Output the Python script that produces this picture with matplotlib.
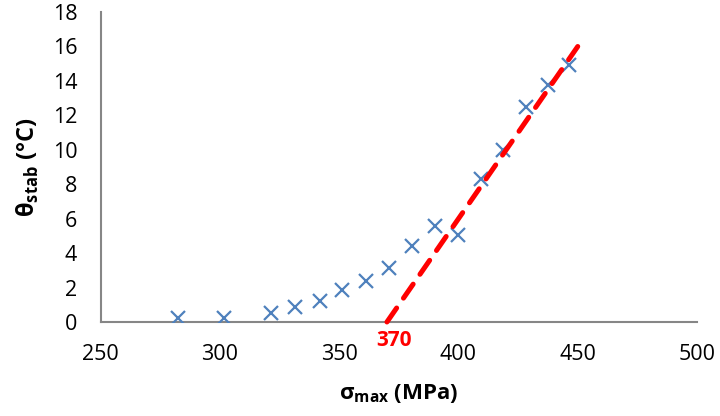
import numpy as np
import matplotlib.pyplot as plt


plt.rcParams.update({
	'font.family': ['Open Sans', 'DejaVu Sans'],
	'font.size': 15,
	'mathtext.fontset': 'custom',
	'mathtext.rm': 'Open Sans',
	'mathtext.bf': 'Open Sans:bold',
})


sigma_max = [282.3, 301.6, 321.3, 331.4, 341.9, 351.2, 361.2, 370.7,
	380.6, 390.2, 399.7, 409.3, 418.8, 428.1, 437.4, 446.4]
theta_stab = [0.23, 0.23, 0.54, 0.89, 1.22, 1.86, 2.4, 3.14,
	4.42, 5.58, 5.06, 8.3, 10.0, 12.48, 13.76, 14.94]

fit_x = [370, 450]
fit_y = [0, 16]
threshold = 370


fig = plt.figure(figsize=(7.2, 4.16), dpi=100)
axis = fig.add_axes([0.140, 0.226, 0.828, 0.745])

axis.plot(sigma_max, theta_stab, linestyle='none', marker='x',
	markersize=10, markeredgewidth=1.6, color='#4F81BD', zorder=3)
axis.plot(fit_x, fit_y, color='#FF0000', linewidth=3.6, linestyle=(0, (3.4, 2.4)),
	dash_capstyle='round', solid_capstyle='round', zorder=4, clip_on=False)

axis.set_xlim(250, 500)
axis.set_ylim(0, 18)
axis.set_xticks(np.arange(250, 501, 50))
axis.set_yticks(np.arange(0, 19, 2))
axis.tick_params(length=0, labelsize=15.5)
axis.tick_params(axis='x', pad=16)
axis.tick_params(axis='y', pad=17)

for side in ['top', 'right']:
	axis.spines[side].set_visible(False)
for side in ['left', 'bottom']:
	axis.spines[side].set_color('#868686')
	axis.spines[side].set_linewidth(1.5)

axis.text(threshold + 3, -1.1, str(threshold), color='#FF0000', fontweight='bold',
	ha='center', va='center', fontsize=15, clip_on=False)

axis.set_xlabel(r'σ$_{\mathbf{max}}$ (MPa)', fontweight='bold', fontsize=16, labelpad=12)
axis.set_ylabel(r'θ$_{\mathbf{stab}}$ (°C)', fontweight='bold', fontsize=17, labelpad=8)

fig.savefig('out.png', dpi=100)
